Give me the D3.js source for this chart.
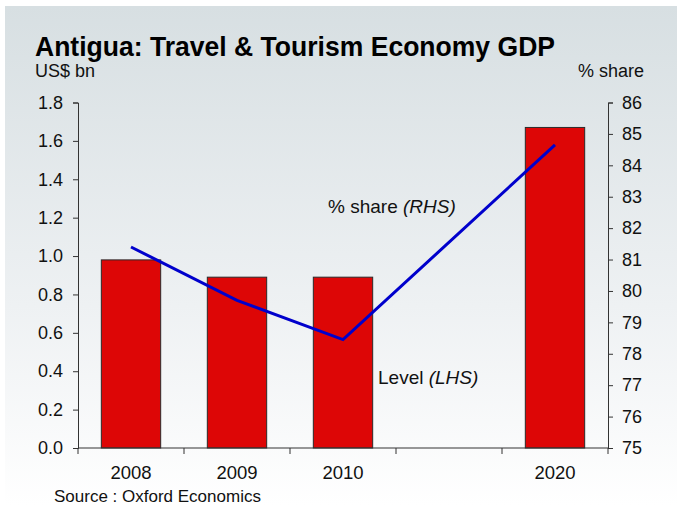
<!DOCTYPE html>
<html>
<head>
<meta charset="utf-8">
<script src="https://cdn.jsdelivr.net/npm/d3@7"></script>
<style>
  html, body { margin: 0; padding: 0; background: #ffffff; }
  svg { display: block; font-family: "Liberation Sans", Arial, sans-serif; }
</style>
</head>
<body>
<svg id="chart" width="679" height="506"></svg>
<script>
// Categories along the bottom axis (one blank slot between 2010 and 2020)
const categories = ["2008", "2009", "2010", "", "2020"];
// Travel & Tourism Economy GDP level, US$ bn (left axis)
const levelYears = ["2008", "2009", "2010", "2020"];
const levelValues = [0.98, 0.89, 0.89, 1.67];
// Share of GDP, % (right axis)
const shareValues = [81.4, 79.7, 78.45, 84.65];
// Tick labels
const leftTicks = [0, 0.2, 0.4, 0.6, 0.8, 1.0, 1.2, 1.4, 1.6, 1.8];
const rightTicks = [75, 76, 77, 78, 79, 80, 81, 82, 83, 84, 85, 86];

const svg = d3.select("#chart");
const W = 679, H = 506;
const m = { left: 78, right: 608, top: 102.5, bottom: 448 };

// Background panel with vertical gradient
const defs = svg.append("defs");
const grad = defs.append("linearGradient").attr("id", "bg").attr("x1", 0).attr("y1", 0).attr("x2", 0).attr("y2", 1);
grad.append("stop").attr("offset", "0%").attr("stop-color", "#d7dfe2");
grad.append("stop").attr("offset", "60%").attr("stop-color", "#eef1f3");
grad.append("stop").attr("offset", "100%").attr("stop-color", "#ffffff");
svg.append("rect").attr("x", 5).attr("y", 6).attr("width", 672).attr("height", H - 6).attr("fill", "url(#bg)");

const x = d3.scaleBand().domain(categories).range([m.left, m.right]).paddingInner(0).paddingOuter(0);
const yL = d3.scaleLinear().domain([0, 1.8]).range([m.bottom, m.top]);
const yR = d3.scaleLinear().domain([75, 86]).range([m.bottom, m.top]);
const barW = x.bandwidth() * 0.56;

// Bars
svg.append("g").selectAll("rect").data(levelYears.map((c, i) => ({ c, v: levelValues[i] })))
  .join("rect")
  .attr("x", d => x(d.c) + (x.bandwidth() - barW) / 2)
  .attr("y", d => yL(d.v))
  .attr("width", barW)
  .attr("height", d => yL(0) - yL(d.v))
  .attr("fill", "#dd0606")
  .attr("stroke", "#2a2a2a")
  .attr("stroke-width", 1);

// Share line
const line = d3.line().x(d => x(d.c) + x.bandwidth() / 2).y(d => yR(d.v));
svg.append("path")
  .datum(levelYears.map((c, i) => ({ c, v: shareValues[i] })))
  .attr("d", line)
  .attr("fill", "none")
  .attr("stroke", "#0000cc")
  .attr("stroke-width", 3);

// Left axis
const gL = svg.append("g").attr("transform", `translate(${m.left},0)`)
  .call(d3.axisLeft(yL).tickValues(leftTicks).tickFormat(d3.format(".1f")).tickSizeOuter(0).tickSize(5).tickPadding(10));
// Right axis
const gR = svg.append("g").attr("transform", `translate(${m.right},0)`)
  .call(d3.axisRight(yR).tickValues(rightTicks).tickFormat(d3.format("d")).tickSizeOuter(0).tickSize(5).tickPadding(9));
[gL, gR].forEach(g => {
  g.select(".domain").attr("stroke", "#333");
  g.selectAll(".tick line").attr("stroke", "#333");
  g.selectAll("text").attr("font-size", 18).attr("fill", "#111").attr("font-family", "Liberation Sans, Arial, sans-serif");
});

// Bottom axis: ticks at band boundaries, labels at band centres
const gB = svg.append("g").attr("transform", `translate(0,${m.bottom})`);
gB.append("line").attr("x1", m.left).attr("x2", m.right).attr("y1", 0).attr("y2", 0).attr("stroke", "#333");
const bounds = categories.map(c => x(c)).concat([m.right]);
gB.selectAll("line.tk").data(bounds).join("line").attr("class", "tk")
  .attr("x1", d => d).attr("x2", d => d).attr("y1", 0).attr("y2", 6).attr("stroke", "#333");
gB.selectAll("text").data(categories.filter(c => c)).join("text")
  .attr("x", c => x(c) + x.bandwidth() / 2)
  .attr("y", 31)
  .attr("text-anchor", "middle")
  .attr("font-size", 18.5).attr("fill", "#111")
  .text(c => c);

// Titles
svg.append("text").attr("x", 35).attr("y", 56).attr("font-size", 28).attr("font-weight", "bold").attr("fill", "#000")
  .attr("textLength", 520).attr("lengthAdjust", "spacingAndGlyphs")
  .text("Antigua: Travel & Tourism Economy GDP");
svg.append("text").attr("x", 35).attr("y", 77).attr("font-size", 18).attr("fill", "#111").text("US$ bn");
svg.append("text").attr("x", 644).attr("y", 77).attr("font-size", 18).attr("fill", "#111").attr("text-anchor", "end").text("% share");

// Series annotations
const t1 = svg.append("text").attr("x", 328).attr("y", 213).attr("font-size", 19).attr("fill", "#111");
t1.append("tspan").text("% share ");
t1.append("tspan").attr("font-style", "italic").text("(RHS)");
const t2 = svg.append("text").attr("x", 378).attr("y", 384).attr("font-size", 19).attr("fill", "#111");
t2.append("tspan").text("Level ");
t2.append("tspan").attr("font-style", "italic").text("(LHS)");

// Source
svg.append("text").attr("x", 54).attr("y", 502).attr("font-size", 17).attr("fill", "#111").text("Source : Oxford Economics");
</script>
</body>
</html>
